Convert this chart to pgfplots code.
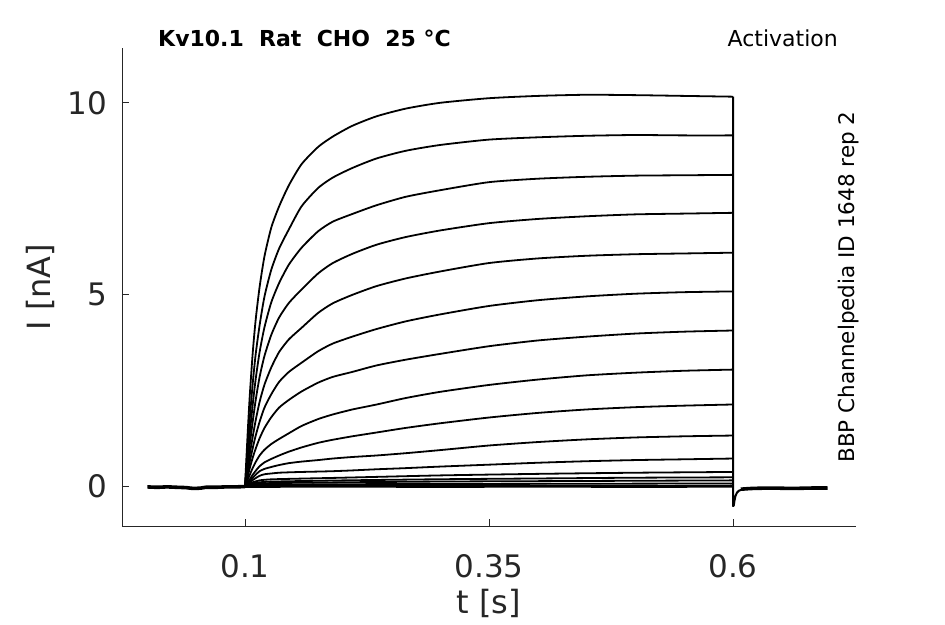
\documentclass[border=0pt]{standalone}
\usepackage{fontspec}
\setmainfont{DejaVu Sans}
\usepackage{pgfplots}
\pgfplotsset{compat=1.18}
\definecolor{axgray}{RGB}{38,38,38}
\pgfplotscreateplotcyclelist{blk}{black,solid\\}
\begin{document}
\begin{tikzpicture}[x=1pt,y=1pt]
\useasboundingbox (0,0) rectangle (945,624);
\begin{axis}[at={(122pt,98pt)}, anchor=south west, scale only axis,
  width=734pt, height=478pt,
  xmin=-0.026, xmax=0.726, ymin=-1.04, ymax=11.43,
  axis x line*=bottom, axis y line*=left,
  axis line style={axgray, line width=0.9pt, -},
  xtick={0.1,0.35,0.6}, xticklabels={0.1,0.35,0.6},
  ytick={0,5,10}, yticklabels={0,5,10},
  tick align=inside, major tick length=7pt,
  tick style={axgray, line width=0.9pt},
  /pgf/number format/assume math mode=true,
  ticklabel style={font=\fontsize{31}{36}\selectfont, text=axgray},
  xticklabel style={inner sep=0pt, anchor=north, yshift=-28pt},
  yticklabel style={inner sep=0pt, anchor=east, xshift=-15pt},
  xlabel={t [s]}, ylabel={I [nA]},
  label style={font=\fontsize{32}{38}\selectfont, text=axgray},
  xlabel style={at={(axis description cs:0.5,0)}, anchor=center, yshift=-77pt},
  ylabel style={at={(axis description cs:0,0.5)}, anchor=center, yshift=82pt},
  cycle list name=blk,
  every axis plot/.append style={black, line width=1.8pt, line join=round, smooth, tension=0.4},
  no markers,
  clip=false,
]
% baseline before pulse
\addplot[black, line width=3.6pt] coordinates {(0,-0.02) (0.01,-0.03) (0.02,-0.02) (0.03,-0.03) (0.04,-0.04) (0.047,-0.06) (0.055,-0.05) (0.06,-0.03) (0.07,-0.03) (0.08,-0.02) (0.09,-0.02) (0.1,-0.01)};
% tail after pulse
\addplot[black, line width=2pt, sharp plot] coordinates {(0.6,10.16) (0.6,-0.52) (0.6008,-0.5) (0.6015,-0.38) (0.6025,-0.26) (0.604,-0.17) (0.606,-0.12) (0.609,-0.09) (0.613,-0.07) (0.62,-0.06)};
\addplot[black, line width=3.6pt] coordinates {(0.608,-0.08) (0.62,-0.06) (0.64,-0.05) (0.66,-0.06) (0.68,-0.05) (0.697,-0.05)};
% trace 1
\addplot coordinates {(0.1,0) (0.101,0.5) (0.103,1.5) (0.105,2.4) (0.108,3.5) (0.111,4.35) (0.115,5.2) (0.12,6.0) (0.127,6.75) (0.135,7.3) (0.145,7.85) (0.158,8.4) (0.175,8.85) (0.19,9.12) (0.21,9.4) (0.235,9.65) (0.265,9.85) (0.3,10.0) (0.35,10.12) (0.4,10.18) (0.45,10.21) (0.5,10.2) (0.55,10.18) (0.6,10.16)};
% trace 2
\addplot coordinates {(0.1,0) (0.101,0.35) (0.103,1.1) (0.105,1.8) (0.108,2.7) (0.111,3.45) (0.115,4.2) (0.12,4.95) (0.127,5.65) (0.135,6.2) (0.145,6.7) (0.158,7.3) (0.175,7.78) (0.19,8.05) (0.21,8.3) (0.235,8.55) (0.265,8.75) (0.3,8.9) (0.35,9.04) (0.4,9.1) (0.45,9.14) (0.5,9.16) (0.55,9.15) (0.6,9.15)};
% trace 3
\addplot coordinates {(0.1,0) (0.101,0.25) (0.103,0.85) (0.105,1.4) (0.108,2.15) (0.111,2.8) (0.115,3.5) (0.12,4.15) (0.127,4.8) (0.135,5.3) (0.145,5.78) (0.158,6.22) (0.175,6.65) (0.19,6.9) (0.21,7.1) (0.235,7.33) (0.265,7.55) (0.3,7.72) (0.35,7.93) (0.4,8.02) (0.45,8.07) (0.5,8.1) (0.55,8.11) (0.6,8.12)};
% trace 4
\addplot coordinates {(0.1,0) (0.101,0.2) (0.103,0.65) (0.105,1.1) (0.108,1.7) (0.111,2.25) (0.115,2.85) (0.12,3.4) (0.127,3.95) (0.135,4.4) (0.145,4.78) (0.158,5.13) (0.175,5.55) (0.19,5.82) (0.21,6.06) (0.235,6.3) (0.265,6.5) (0.3,6.67) (0.35,6.86) (0.4,6.97) (0.45,7.04) (0.5,7.09) (0.55,7.11) (0.6,7.13)};
% trace 5
\addplot coordinates {(0.1,0) (0.101,0.15) (0.103,0.5) (0.105,0.85) (0.108,1.3) (0.111,1.72) (0.115,2.2) (0.12,2.65) (0.127,3.1) (0.135,3.5) (0.145,3.83) (0.158,4.13) (0.175,4.52) (0.19,4.77) (0.21,4.99) (0.235,5.22) (0.265,5.42) (0.3,5.6) (0.35,5.82) (0.4,5.94) (0.45,6.01) (0.5,6.05) (0.55,6.07) (0.6,6.09)};
% trace 6
\addplot coordinates {(0.1,0) (0.101,0.12) (0.103,0.38) (0.105,0.65) (0.108,1.0) (0.111,1.32) (0.115,1.68) (0.12,2.05) (0.127,2.4) (0.135,2.72) (0.145,2.98) (0.158,3.22) (0.175,3.52) (0.19,3.72) (0.21,3.9) (0.235,4.1) (0.265,4.3) (0.3,4.48) (0.35,4.7) (0.4,4.85) (0.45,4.95) (0.5,5.02) (0.55,5.06) (0.6,5.08)};
% trace 7
\addplot coordinates {(0.1,0) (0.101,0.08) (0.103,0.28) (0.105,0.48) (0.108,0.75) (0.111,0.98) (0.115,1.25) (0.12,1.52) (0.127,1.8) (0.135,2.05) (0.145,2.25) (0.158,2.47) (0.175,2.7) (0.19,2.85) (0.21,2.98) (0.235,3.15) (0.265,3.3) (0.3,3.45) (0.35,3.65) (0.4,3.8) (0.45,3.9) (0.5,3.98) (0.55,4.03) (0.6,4.06)};
% trace 8
\addplot coordinates {(0.1,0) (0.101,0.05) (0.103,0.18) (0.105,0.3) (0.108,0.48) (0.111,0.63) (0.115,0.8) (0.12,0.95) (0.127,1.1) (0.135,1.23) (0.145,1.38) (0.158,1.57) (0.175,1.75) (0.19,1.87) (0.21,2.0) (0.235,2.13) (0.265,2.3) (0.3,2.46) (0.35,2.64) (0.4,2.78) (0.45,2.89) (0.5,2.96) (0.55,3.01) (0.6,3.04)};
% trace 9
\addplot coordinates {(0.1,0) (0.101,0.03) (0.103,0.1) (0.105,0.18) (0.108,0.3) (0.111,0.4) (0.115,0.52) (0.12,0.62) (0.127,0.71) (0.135,0.8) (0.145,0.9) (0.158,1.01) (0.175,1.13) (0.19,1.21) (0.21,1.3) (0.235,1.4) (0.265,1.52) (0.3,1.64) (0.35,1.79) (0.4,1.91) (0.45,2.0) (0.5,2.06) (0.55,2.1) (0.6,2.13)};
% trace 10
\addplot coordinates {(0.1,0) (0.101,0.02) (0.103,0.07) (0.105,0.13) (0.108,0.22) (0.111,0.3) (0.115,0.39) (0.12,0.45) (0.127,0.5) (0.135,0.55) (0.145,0.6) (0.158,0.64) (0.175,0.68) (0.19,0.72) (0.21,0.76) (0.235,0.8) (0.265,0.86) (0.3,0.94) (0.35,1.06) (0.4,1.15) (0.45,1.22) (0.5,1.27) (0.55,1.3) (0.6,1.32)};
% trace 11
\addplot coordinates {(0.1,0) (0.101,0.02) (0.103,0.06) (0.105,0.1) (0.108,0.16) (0.111,0.21) (0.115,0.27) (0.12,0.31) (0.127,0.33) (0.135,0.35) (0.145,0.36) (0.158,0.37) (0.175,0.38) (0.19,0.39) (0.21,0.41) (0.235,0.44) (0.265,0.47) (0.3,0.51) (0.35,0.56) (0.4,0.61) (0.45,0.65) (0.5,0.68) (0.55,0.7) (0.6,0.72)};
% trace 12
\addplot coordinates {(0.1,0) (0.103,0.04) (0.108,0.1) (0.115,0.15) (0.13,0.18) (0.2,0.22) (0.3,0.28) (0.4,0.32) (0.5,0.35) (0.6,0.37)};
% trace 13
\addplot coordinates {(0.1,0) (0.103,0.03) (0.108,0.07) (0.115,0.1) (0.13,0.12) (0.2,0.15) (0.3,0.18) (0.4,0.2) (0.5,0.22) (0.6,0.23)};
% trace 14
\addplot coordinates {(0.1,0) (0.105,0.04) (0.115,0.07) (0.13,0.08) (0.2,0.1) (0.3,0.12) (0.4,0.13) (0.5,0.14) (0.6,0.15)};
% trace 15
\addplot coordinates {(0.1,0) (0.11,0.03) (0.2,0.05) (0.4,0.06) (0.6,0.07)};
% trace 16
\addplot[black, line width=2.8pt] coordinates {(0.1,-0.01) (0.2,0.0) (0.3,-0.01) (0.4,0.0) (0.5,-0.01) (0.6,0.0)};
\end{axis}
\node[anchor=base west, inner sep=0pt, text=black, font=\fontsize{22}{26}\selectfont\bfseries] at (158,577) {Kv10.1\ \ Rat\ \ CHO\ \ 25 °C};
\node[anchor=base east, inner sep=0pt, text=black, font=\fontsize{22}{26}\selectfont] at (838,577) {Activation};
\node[anchor=center, rotate=90, inner sep=0pt, text=black, font=\fontsize{21.5}{26}\selectfont] at (849,337) {BBP Channelpedia ID 1648 rep 2};
\end{tikzpicture}
\end{document}
